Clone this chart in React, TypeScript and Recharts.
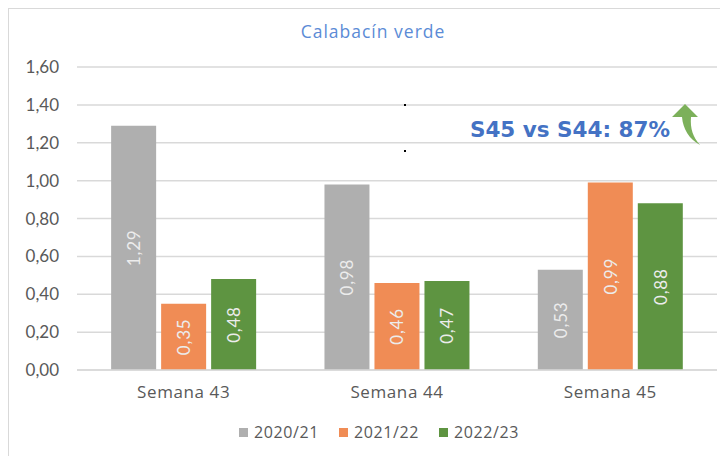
import {Bar, BarChart, CartesianGrid, Customized, LabelList, Legend, XAxis, YAxis} from 'recharts';

const weeks = ['Semana 43', 'Semana 44', 'Semana 45'];
const season2020 = [1.29, 0.98, 0.53];
const season2021 = [0.35, 0.46, 0.99];
const season2022 = [0.48, 0.47, 0.88];
const yTicks = [0, 0.2, 0.4, 0.6, 0.8, 1.0, 1.2, 1.4, 1.6];

const data = weeks.map((week, i) => ({
  week,
  s2020: season2020[i],
  s2021: season2021[i],
  s2022: season2022[i],
}));

const FONT = 'Lato, "Noto Sans", sans-serif';
const WIDE = '"Open Sans", "Noto Sans", sans-serif';
const comma = (v: number) => v.toFixed(2).replace('.', ',');

function RotatedLabel(props: any) {
  const {x, y, width, height, value} = props;
  const cx = x + width / 2;
  const cy = y + height / 2;
  return (
    <text
      x={cx}
      y={cy}
      transform={`rotate(-90 ${cx} ${cy})`}
      textAnchor="middle"
      dominantBaseline="central"
      fill="#ececec"
      fontSize={17}
      letterSpacing={0.8}
      fontFamily={FONT}
    >
      {comma(value)}
    </text>
  );
}

function LegendRow(props: any) {
  const items = props.payload || [];
  return (
    <div style={{display: 'flex', justifyContent: 'center', fontFamily: WIDE, fontSize: 16, color: '#595959', letterSpacing: 0.6}}>
      {items.map((it: any) => (
        <div key={it.value} style={{display: 'flex', alignItems: 'center', marginRight: 20}}>
          <span style={{width: 9, height: 9, background: it.color, display: 'inline-block', marginRight: 6}} />
          <span>{it.value}</span>
        </div>
      ))}
    </div>
  );
}

function Annotation() {
  return (
    <g>
      <text x={364} y={29} textAnchor="middle" fontSize={17.5} letterSpacing={1} fill="#5b8bd6" fontFamily={WIDE}>
        Calabacín verde
      </text>
      <text x={561} y={128} textAnchor="middle" fontSize={21.5} fontWeight={700} fill="#4472c4" fontFamily='"DejaVu Sans", sans-serif'>
        S45 vs S44: 87%
      </text>
      <path
        d="M 676 95 L 689 108 L 682 108 C 681 120 684 128 691 136 C 680 130 674 120 673 108 L 663 108 Z"
        fill="#7cb05a"
      />
      <rect x={395} y={95} width={2} height={2} fill="#000" />
      <rect x={395} y={141} width={2} height={2} fill="#000" />
    </g>
  );
}

export default function App() {
  return (
    <div
      style={{
        width: 740,
        height: 460,
        borderTop: '1px solid #d9d9d9',
        borderLeft: '1px solid #d9d9d9',
        background: '#fff',
        overflow: 'hidden',
      }}
    >
      <BarChart
        width={720}
        height={446}
        data={data}
        margin={{top: 58, right: 12, bottom: 23, left: 0}}
        barCategoryGap="16%"
        barGap={5}
      >
        <CartesianGrid stroke="#d9d9d9" strokeWidth={1.5} vertical={false} />
        <XAxis
          dataKey="week"
          axisLine={{stroke: '#d9d9d9', strokeWidth: 1.5}}
          tickLine={false}
          tick={{fill: '#595959', fontSize: 17, fontFamily: WIDE, letterSpacing: 0.6}}
          tickMargin={10}
          height={40}
        />
        <YAxis
          domain={[0, 1.6]}
          ticks={yTicks}
          tickFormatter={comma}
          axisLine={false}
          tickLine={false}
          tick={{fill: '#595959', fontSize: 17, fontFamily: FONT}}
          width={68}
          tickMargin={12}
        />
        <Legend
          verticalAlign="bottom"
          content={LegendRow}
          wrapperStyle={{bottom: 12, left: 20, width: 720}}
        />
        <Bar dataKey="s2020" name="2020/21" fill="#afafaf" isAnimationActive={false}>
          <LabelList dataKey="s2020" content={RotatedLabel} />
        </Bar>
        <Bar dataKey="s2021" name="2021/22" fill="#f08c55" isAnimationActive={false}>
          <LabelList dataKey="s2021" content={RotatedLabel} />
        </Bar>
        <Bar dataKey="s2022" name="2022/23" fill="#5e9441" isAnimationActive={false}>
          <LabelList dataKey="s2022" content={RotatedLabel} />
        </Bar>
        <Customized component={Annotation} />
      </BarChart>
    </div>
  );
}
